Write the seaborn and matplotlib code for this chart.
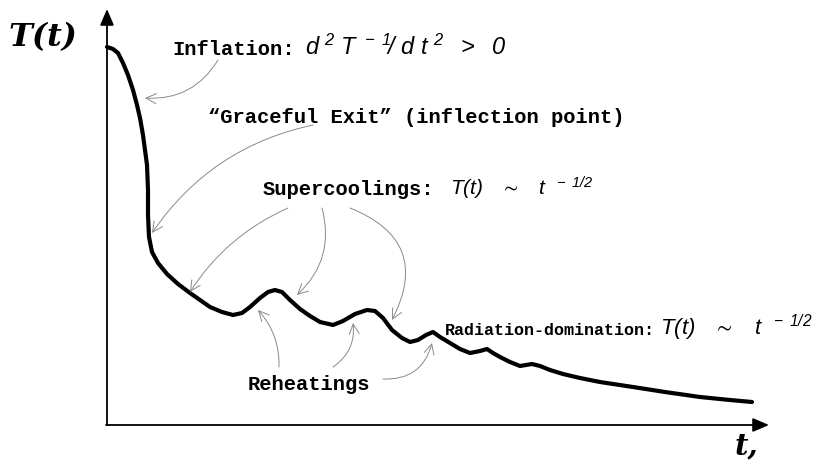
import seaborn as sns
import matplotlib.pyplot as plt

# curve (t in arbitrary units, T in arbitrary units)
t_vals = [0, 0.6, 1.1, 1.6, 2.1, 2.6, 3.0, 3.3, 3.6, 3.8, 4.0, 4.1, 4.1, 4.2, 4.5, 5.1,
          6.0, 7.1, 8.3, 9.3, 10.3, 11.5, 12.6, 13.5, 14.3, 15.3, 16.1, 16.8, 17.5, 18.3,
          19.3, 20.3, 21.3, 22.6, 23.6, 24.8, 26.0, 26.8, 27.6, 28.5, 29.5, 30.3, 31.1,
          31.9, 32.6, 33.3, 34.3, 35.3, 36.3, 37.3, 38.0, 38.6, 39.3, 40.3, 41.3, 41.9,
          42.5, 43.3, 44.3, 45.6, 47.3, 49.3, 52.6, 55.8, 59.3, 62.3, 64.5]
T_vals = [37.8, 37.6, 37.2, 36.2, 35.0, 33.5, 32.0, 30.7, 29.0, 27.5, 26.0, 23.5, 21.0, 18.8,
          17.3, 16.2, 15.1, 14.1, 13.2, 12.5, 11.8, 11.3, 11.0, 11.2, 11.8, 12.7, 13.3, 13.5,
          13.3, 12.5, 11.6, 10.9, 10.3, 10.0, 10.4, 11.1, 11.5, 11.4, 10.7, 9.5, 8.7, 8.3,
          8.5, 9.0, 9.3, 8.8, 8.2, 7.6, 7.2, 7.4, 7.6, 7.2, 6.8, 6.3, 5.9, 6.0, 6.1, 5.9,
          5.5, 5.1, 4.7, 4.3, 3.8, 3.3, 2.8, 2.5, 2.3]

# annotation labels
label_inflation = "Inflation:"
math_inflation = r"$d^{\ 2}\ T^{\ -\ 1}\!/\ d\ t^{\ 2}\ \ >\ \ 0$"
label_exit = "\u201cGraceful Exit\u201d (inflection point)"
label_super = "Supercoolings:"
math_super = r"$T(t)\ \ \ \sim\ \ \ t^{\ \ -\ 1/2}$"
label_rad = "Radiation-domination:"
math_rad = r"$T(t)\ \ \ \sim\ \ \ t^{\ \ -\ 1/2}$"
label_reheat = "Reheatings"

# arrow (tail, head, curvature) pairs
super_arrows = [((18.1, 21.7), (8.3, 13.3), 0.15),
                ((21.5, 21.7), (19.0, 13.0), -0.3),
                ((24.3, 21.7), (28.5, 10.5), -0.55)]
reheat_arrows = [((17.2, 5.8), (15.1, 11.5), 0.2),
                 ((22.6, 5.8), (24.6, 10.2), 0.3),
                 ((27.6, 4.6), (32.5, 8.2), 0.4)]

sns.set_theme(style="white")
plt.rcParams["text.color"] = "black"
plt.rcParams["mathtext.fontset"] = "custom"
plt.rcParams["mathtext.it"] = "Liberation Sans:italic"
plt.rcParams["mathtext.rm"] = "Liberation Sans:italic"
plt.rcParams["mathtext.sf"] = "Liberation Sans:italic"
plt.rcParams["mathtext.fallback"] = "stixsans"

fig = plt.figure(figsize=(8.29, 4.61), dpi=100)
ax = fig.add_axes([0, 0, 1, 1])
ax.set_xlim(-10.7, 72.2)
ax.set_ylim(-3.6, 42.5)
ax.axis("off")

sns.lineplot(x=t_vals, y=T_vals, sort=False, estimator=None, color="black",
             linewidth=3, ax=ax)
ax.lines[-1].set_solid_joinstyle("round")

# axes with arrow heads
axis_kw = dict(arrowstyle="-|>,head_length=0.7,head_width=0.3", color="black",
               lw=1.3, mutation_scale=14, shrinkA=0, shrinkB=0)
ax.annotate("", xy=(0, 41.6), xytext=(0, 0), arrowprops=axis_kw)
ax.annotate("", xy=(66.2, 0), xytext=(-0.1, 0), arrowprops=axis_kw)

ax.text(-9.9, 37.9, "T(t)", family="DejaVu Serif", weight="bold", style="italic",
        fontsize=23, ha="left", va="baseline")
ax.text(62.8, -2.9, "t,", family="DejaVu Serif", weight="bold", style="italic",
        fontsize=21, ha="left", va="baseline")

mono = dict(family="Liberation Mono", weight="bold", ha="left", va="baseline")
ax.text(6.5, 37.0, label_inflation, fontsize=14.8, **mono)
ax.text(19.8, 37.0, math_inflation, fontsize=17, ha="left", va="baseline")
ax.text(10.1, 30.2, label_exit, fontsize=14.8, **mono)
ax.text(15.6, 23.0, label_super, fontsize=14.8, **mono)
ax.text(34.3, 23.0, math_super, fontsize=15, ha="left", va="baseline")
ax.text(33.8, 9.0, label_rad, fontsize=12, **mono)
ax.text(55.3, 9.0, math_rad, fontsize=16, ha="left", va="baseline")
ax.text(14.1, 3.5, label_reheat, fontsize=14.8, **mono)

thin = dict(arrowstyle="->,head_length=0.6,head_width=0.3", color="#8a8a8a",
            lw=0.7, mutation_scale=12, shrinkA=0, shrinkB=0)


def curved_arrow(tail, head, rad):
    ax.annotate("", xy=head, xytext=tail,
                arrowprops=dict(connectionstyle=f"arc3,rad={rad}", **thin))


curved_arrow((11.1, 36.5), (3.8, 32.7), -0.3)
curved_arrow((20.6, 30.0), (4.5, 19.2), 0.2)
for tail, head, rad in super_arrows:
    curved_arrow(tail, head, rad)
for tail, head, rad in reheat_arrows:
    curved_arrow(tail, head, rad)

fig.savefig("out.png", dpi=100)
